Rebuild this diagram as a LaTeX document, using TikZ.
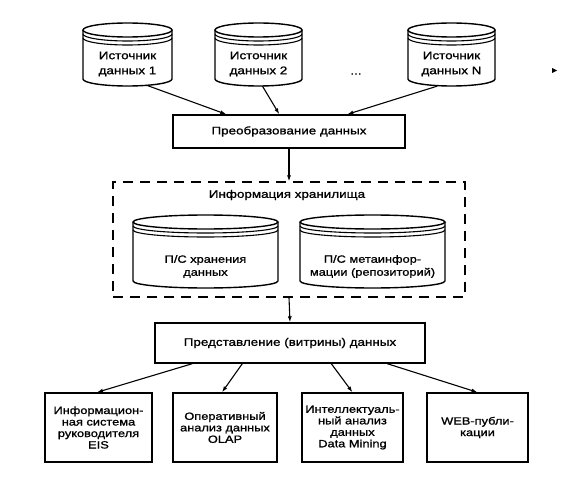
\documentclass[tikz,border=0pt]{standalone}
\usepackage{fontspec}
\setmainfont{Liberation Sans}[FakeStretch=1.22,FakeBold=1.2]
\usetikzlibrary{arrows.meta,calc}
\tikzset{
  ln/.style={line width=1.4pt},
  boxn/.style={draw, line width=1.4pt, align=center, inner sep=0pt, font=\fontsize{10.5}{11.5}\selectfont},
  cylarea/.style={draw=none, inner sep=0pt},
  txt/.style={align=center, inner sep=0pt, font=\fontsize{11}{15}\selectfont},
  txtb/.style={align=center, inner sep=0pt, font=\fontsize{10.5}{13}\selectfont},
  arr/.style={-{Latex[length=6pt,width=4pt]}, line width=1.1pt},
  dashbox/.style={draw, line width=1.3pt, dash pattern=on 10pt off 7pt, inner sep=0pt}
}
\newcommand\dbcyl[5]{%
  \pgfmathsetmacro\cL{#1}\pgfmathsetmacro\cR{#2}%
  \pgfmathsetmacro\cX{(#1+#2)/2}\pgfmathsetmacro\rX{(#2-#1)/2}%
  \pgfmathsetmacro\kX{0.5523*\rX}\pgfmathsetmacro\kY{0.5523*#5}%
  \pgfmathsetmacro\yT{#3+#5}\pgfmathsetmacro\yB{#4-#5}%
  \draw[ln] (\cL,\yT) -- (\cL,\yB) .. controls (\cL,\yB+\kY) and (\cX-\kX,#4) .. (\cX,#4) .. controls (\cX+\kX,#4) and (\cR,\yB+\kY) .. (\cR,\yB) -- (\cR,\yT);
  \draw[ln] (\cX,\yT) ellipse [x radius=\rX pt, y radius=#5 pt];
  \foreach \dd in {4,8}{%
    \pgfmathsetmacro\yR{\yT+\dd}\pgfmathsetmacro\yRb{\yR+#5}\pgfmathsetmacro\yRk{\yR+\kY}%
    \draw[line width=1.1pt] (\cL,\yR) .. controls (\cL,\yRk) and (\cX-\kX,\yRb) .. (\cX,\yRb) .. controls (\cX+\kX,\yRb) and (\cR,\yRk) .. (\cR,\yR);
  }%
}
\begin{document}
\begin{tikzpicture}[x=1pt,y=-1pt]
\useasboundingbox (0,0) rectangle (568,487);
% top sources
\dbcyl{83}{172}{23}{86}{7}
\dbcyl{215}{302}{23}{86}{7}
\dbcyl{408}{495}{23}{86}{7}
\node[cylarea, minimum width=89pt, minimum height=63pt] (c1) at (127.5,54.5) {};
\node[cylarea, minimum width=87pt, minimum height=63pt] (c2) at (258.5,54.5) {};
\node[cylarea, minimum width=87pt, minimum height=63pt] (cN) at (451.5,54.5) {};
\node[txt] (c1t) at (127.5,64) {Источник\\данных 1};
\node[txt] (c2t) at (258.5,64) {Источник\\данных 2};
\node[txt] (cNt) at (451.5,64) {Источник\\данных N};
\node[txt] (dots) at (356,74) {...};
\fill (552,68) -- (557,70.5) -- (552,73) -- cycle;
% transformation
\node[boxn, minimum width=232pt, minimum height=33pt, font=\fontsize{11}{13}\selectfont] (trans) at (289,131.5) {Преобразование данных};
\draw[arr] ($(c1.south)+(19,-1)$) -- ($(trans.north west)+(54,0)$);
\draw[arr] ($(c2.south)+(4,0)$) -- ($(trans.north west)+(107,0)$);
\draw[arr] ($(cN.south)+(-14.5,0)$) -- ($(trans.north west)+(175,0)$);
% storage
\node[dashbox, minimum width=352pt, minimum height=115pt] (store) at (289,239.5) {};
\node[txt] (storet) at (287,195) {Информация хранилища};
\draw[arr] (trans.south) -- (store.north);
\dbcyl{133}{278}{215}{288}{7}
\dbcyl{300}{445}{215}{288}{7}
\node[cylarea, minimum width=145pt, minimum height=73pt] (sA) at (205.5,251.5) {};
\node[cylarea, minimum width=145pt, minimum height=73pt] (sB) at (372.5,251.5) {};
\node[txtb] (sAt) at (205.5,266.5) {П/С хранения\\данных};
\node[txtb] (sBt) at (372.5,266.5) {П/С метаинфор-\\мации (репозиторий)};
% presentation
\node[boxn, minimum width=270pt, minimum height=40pt, font=\fontsize{11}{13}\selectfont] (pres) at (290,343) {Представление (витрины) данных};
\draw[arr] (store.south) -- (pres.north);
% bottom boxes
\node[boxn, minimum width=107pt, minimum height=69pt] (b1) at (98.5,427.5) {Информацион-\\ная система\\руководителя\\EIS};
\node[boxn, minimum width=104pt, minimum height=69pt] (b2) at (225,427.5) {Оперативный\\анализ данных\\OLAP};
\node[boxn, minimum width=101pt, minimum height=69pt] (b3) at (352.5,427.5) {Интеллектуаль-\\ный анализ\\данных\\Data Mining};
\node[boxn, minimum width=101pt, minimum height=69pt] (b4) at (477.5,427.5) {WEB-публи-\\кации};
\draw[arr] ($(pres.south west)+(38,0)$) -- ($(b1.north)+(-1.5,0)$);
\draw[arr] ($(pres.south west)+(88,0)$) -- ($(b2.north)+(-3,0)$);
\draw[arr] ($(pres.south west)+(177,0)$) -- (b3.north);
\draw[arr] ($(pres.south west)+(233,0)$) -- (b4.north);
\end{tikzpicture}
\end{document}
